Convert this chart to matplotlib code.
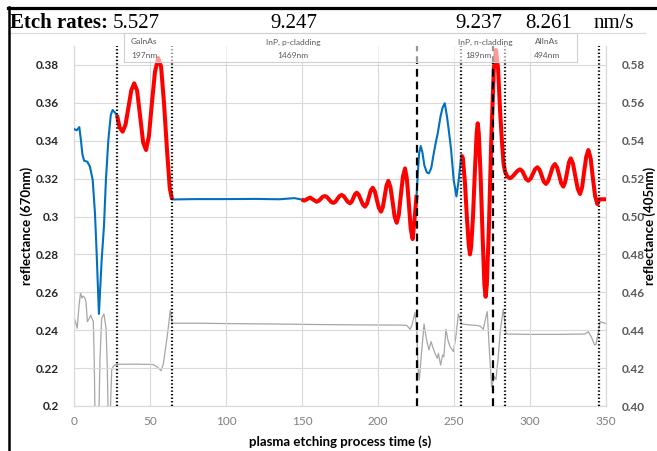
import matplotlib
matplotlib.use('Agg')
import matplotlib.pyplot as plt
from matplotlib.patches import Rectangle
from matplotlib.lines import Line2D
import numpy as np

# ---------------- data ----------------
t670 = [0, 1.75, 3.5, 4.6, 5.5, 6.6, 8.8, 10.5, 12.3, 13.8, 14.9, 16.4, 18.2, 19.7, 21.0, 22.6, 24.2, 25.4, 26.9,
        28.3, 30.0, 32.0, 33.9, 35.8, 37.7, 39.6, 41.5, 43.5, 45.5, 47.4, 49.3, 51.2, 53.3, 55.4, 57.3, 59.2, 61.2, 63.0, 64.5,
        80, 100, 120, 135, 140, 145, 149.7,
        151.5, 153.4, 155.3, 157.4, 159.6, 161.0, 162.3, 163.6, 165.0, 166.4, 167.8, 169.2, 170.6, 172.0, 173.3, 174.7,
        176.1, 177.5, 178.8, 180.2, 181.6, 182.7, 183.8, 184.9, 186.0, 187.3, 188.7, 190.1, 191.4, 192.7, 194.0, 195.2,
        196.5, 197.9, 199.2, 200.6, 202.0, 203.2, 204.4, 205.6, 206.8, 208.2, 209.6, 210.9, 212.3, 213.7, 215.0, 216.4,
        217.8, 219.0, 220.3, 221.5, 222.8, 224.1, 225.4,
        226.2, 227.0, 228.1, 229.2, 230.5, 232.1, 233.5, 235.0, 236.7, 238.0, 239.3, 241.1, 242.5, 243.9, 245.4, 246.8,
        248.1, 249.8, 251.6, 253.1, 254.8,
        255.8, 257.2, 258.6, 259.7, 260.5, 261.3, 262.5, 263.8, 264.9, 265.6, 266.3, 267.5, 268.8, 270.0, 270.8, 271.6,
        273.0, 274.5, 276.2, 277.6, 279.0, 280.3, 281.5, 282.6, 283.6, 285.0, 286.8, 288.3, 290.1, 291.9, 293.4, 294.9,
        296.2, 297.4, 298.9, 300.4, 301.9, 303.3, 304.8, 306.3, 307.7, 309.0, 310.5, 312.0, 313.5, 314.9, 316.4, 317.8,
        319.2, 320.5, 321.9, 323.1, 324.4, 325.6, 326.8, 328.3, 329.8, 331.4, 332.9, 334.3, 335.6, 337.0, 338.4, 339.9,
        341.3, 342.8, 344.3, 345.6, 350]
r670 = [0.3462, 0.3455, 0.3472, 0.3400, 0.3330, 0.3295, 0.3289, 0.3263, 0.3193, 0.3017, 0.2807, 0.2486, 0.2770,
        0.2947, 0.3193, 0.3404, 0.3536, 0.3562, 0.3549,
        0.3535, 0.3470, 0.3448, 0.3485, 0.3575, 0.3666, 0.3703, 0.3665, 0.3530, 0.3390, 0.3351, 0.3425, 0.3595, 0.3765,
        0.3837, 0.3790, 0.3600, 0.3350, 0.3150, 0.3090,
        0.3092, 0.3092, 0.3093, 0.3091, 0.3094, 0.3097, 0.3090,
        0.3084, 0.3092, 0.3100, 0.3089, 0.3078, 0.3083, 0.3093, 0.3104, 0.3108, 0.3103, 0.3090, 0.3077, 0.3072, 0.3078,
        0.3093, 0.3108, 0.3114, 0.3107, 0.3092, 0.3077, 0.3070, 0.3078, 0.3098, 0.3118, 0.3126, 0.3115, 0.3089, 0.3063,
        0.3052, 0.3067, 0.3102, 0.3137, 0.3152, 0.3133, 0.3089, 0.3045, 0.3026, 0.3050, 0.3107, 0.3164, 0.3188, 0.3155,
        0.3078, 0.3000, 0.2967, 0.3010, 0.3111, 0.3211, 0.3254, 0.3198, 0.3068, 0.2937, 0.2881, 0.2990, 0.3114,
        0.3230, 0.3330, 0.3372, 0.3340, 0.3270, 0.3233, 0.3228, 0.3255, 0.3334, 0.3390, 0.3439, 0.3527, 0.3575, 0.3598,
        0.3527, 0.3440, 0.3351, 0.3193, 0.3106, 0.3193, 0.3325,
        0.3310, 0.3180, 0.2980, 0.2850, 0.2800, 0.2840, 0.3000, 0.3250, 0.3440, 0.3492, 0.3440, 0.3220, 0.2900, 0.2640,
        0.2577, 0.2640, 0.2950, 0.3400, 0.3780, 0.3879, 0.3780, 0.3560, 0.3400, 0.3280, 0.3237, 0.3212, 0.3202, 0.3209,
        0.3226, 0.3242, 0.3249, 0.3240, 0.3219, 0.3198, 0.3189, 0.3200, 0.3225, 0.3249, 0.3260, 0.3247, 0.3216, 0.3185,
        0.3172, 0.3188, 0.3225, 0.3261, 0.3277, 0.3259, 0.3218, 0.3176, 0.3158, 0.3180, 0.3233, 0.3285, 0.3307, 0.3279,
        0.3213, 0.3147, 0.3119, 0.3154, 0.3235, 0.3316, 0.3351, 0.3308, 0.3208, 0.3109, 0.3066, 0.3091, 0.3091]

t405 = [0.2, 1.2, 2.1, 3.2, 4.3, 5.2, 6.1, 7.2, 7.9, 8.8, 10.1, 11.0, 11.8, 12.7, 13.3, 13.9, 15.4, 16.5, 17.1, 18.2,
        19.7, 21.1, 21.9, 22.6, 23.7, 24.8, 26.3, 28.1, 40, 52, 55, 57.3, 58.7, 60.1, 61.6, 63.4, 64.5,
        80, 100, 130, 160, 190, 215, 219, 221.1, 222.5, 224.3, 225.5, 226.3, 227.2, 228.3, 230.3, 231.5, 232.5, 233.5,
        234.9, 236.5, 237.5, 239.0, 239.7, 241.2, 242.5, 243.3, 244.7, 246.0, 247.4, 249.6, 251.2, 252.9, 255.0, 260,
        265, 267.1, 269.3, 271.0, 271.9, 273.2, 274.8, 276.5, 277.6, 279.0, 280.5, 282.4, 283.5, 284.2, 285, 300, 320,
        336, 338.4, 340.6, 342.5, 343.4, 344.5, 346.1, 349.3, 350]
r405 = [0.4463, 0.4440, 0.4410, 0.4520, 0.4598, 0.4570, 0.4580, 0.4570, 0.4550, 0.4445, 0.4463, 0.4480, 0.4463,
        0.4445, 0.4250, 0.3900, 0.3850, 0.4000, 0.4250, 0.4463, 0.4485, 0.4410, 0.4200, 0.3900, 0.3920, 0.4190, 0.4215,
        0.4220, 0.4221, 0.4219, 0.4205, 0.4186, 0.4220, 0.4296, 0.4384, 0.4507, 0.4437,
        0.4437, 0.4435, 0.4433, 0.4430, 0.4428, 0.4427, 0.4425, 0.4405, 0.4430, 0.4493, 0.4400, 0.4200, 0.4137, 0.4250,
        0.4433, 0.4370, 0.4331, 0.4296, 0.4340, 0.4300, 0.4278, 0.4252, 0.4278, 0.4216, 0.4269, 0.4260, 0.4405, 0.4348,
        0.4313, 0.4287, 0.4366, 0.4486, 0.4433, 0.4428, 0.4425, 0.4422, 0.4405, 0.4470, 0.4498, 0.4300, 0.4102, 0.4155,
        0.4140, 0.4250, 0.4400, 0.4510, 0.4440, 0.4384, 0.4380, 0.4378, 0.4378, 0.4380, 0.4392, 0.4360, 0.4322, 0.4325,
        0.4370, 0.4445, 0.4437, 0.4435]

red_ranges = [(28.3, 64.5), (149.7, 225.4), (254.8, 350)]
dotted_x = [28.3, 64.5, 254.8, 283.8, 345.6]
dashed_x = [225.4, 275.5]
etch_rates = ['5.527', '9.247', '9.237', '8.261']
layer_names = ['GaInAs', 'InP, p-cladding', 'InP, n-cladding', 'AlInAs']
layer_thick = ['197nm', '1469nm', '189nm', '494nm']

xticks = [0, 50, 100, 150, 200, 250, 300, 350]
yticks_left = [0.2, 0.22, 0.24, 0.26, 0.28, 0.3, 0.32, 0.34, 0.36, 0.38]
yticks_right = [0.40, 0.42, 0.44, 0.46, 0.48, 0.50, 0.52, 0.54, 0.56, 0.58]

# ---------------- figure ----------------
W, H = 657, 451
fig = plt.figure(figsize=(W / 100, H / 100), dpi=100)
fig.patch.set_facecolor('white')

def fx(px):
    return px / W

def fy(py):
    return 1 - py / H

AX_L, AX_R, AX_T, AX_B = 74, 606, 46, 406
ax = fig.add_axes([fx(AX_L), fy(AX_B), (AX_R - AX_L) / W, (AX_B - AX_T) / H])
ax.set_xlim(0, 350)
ax.set_ylim(0.2, 0.39)
ax2 = ax.twinx()
ax2.set_ylim(0.40, 0.59)

grid_c = '#D9D9D9'
for a in (ax, ax2):
    for s in a.spines.values():
        s.set_color(grid_c)
        s.set_linewidth(0.8)
    a.spines['top'].set_visible(False)

ax.set_xticks(xticks)
ax.set_yticks(yticks_left)
ax.set_yticklabels([('%g' % v) for v in yticks_left])
ax2.set_yticks(yticks_right)
ax2.set_yticklabels(['%.2f' % v for v in yticks_right])
ax.grid(True, color=grid_c, linewidth=0.8)
ax.set_axisbelow(True)

tick_font = 'Lato'
ax.tick_params(axis='both', length=0)
ax2.tick_params(axis='both', length=0)
ax.tick_params(axis='y', pad=11)
ax2.tick_params(axis='y', pad=11)
ax.tick_params(axis='x', pad=7)
for lab in ax.get_yticklabels():
    lab.set_fontfamily(tick_font); lab.set_fontweight('bold'); lab.set_fontsize(8.5); lab.set_color('#262626')
for lab in ax2.get_yticklabels():
    lab.set_fontfamily(tick_font); lab.set_fontweight('bold'); lab.set_fontsize(8.5); lab.set_color('#595959')
for lab in ax.get_xticklabels():
    lab.set_fontfamily(tick_font); lab.set_fontsize(8.5); lab.set_color('#7F7F7F')

lab_kw = dict(fontfamily=tick_font, fontweight='bold', fontsize=9.5, color='black')
ax.set_xlabel('plasma etching process time (s)', **lab_kw)
ax.set_ylabel('reflectance (670nm)', **lab_kw)
ax2.set_ylabel('reflectance (405nm)', rotation=90, **lab_kw)
axw = AX_R - AX_L
axh = AX_B - AX_T
ax.xaxis.set_label_coords((340 - AX_L) / axw, -(442 - AX_B) / axh)
ax.xaxis.label.set_verticalalignment('center')
ax.yaxis.set_label_coords((27 - AX_L) / axw, (AX_B - 226) / axh)
ax.yaxis.label.set_verticalalignment('center')
ax2.yaxis.set_label_coords((650 - AX_L) / axw, (AX_B - 226) / axh)
ax2.yaxis.label.set_verticalalignment('center')

# lines
ax2.plot(t405, r405, color='#A6A6A6', linewidth=0.9, zorder=2)
ax.set_zorder(ax2.get_zorder() + 1)
ax.patch.set_visible(False)
ax.plot(t670, r670, color='#0070C0', linewidth=1.5, zorder=3)
t_arr = np.array(t670)
r_arr = np.array(r670)
for a0, a1 in red_ranges:
    m = (t_arr >= a0) & (t_arr <= a1)
    ax.plot(t_arr[m], r_arr[m], color='#FF0000', linewidth=2.9, zorder=4, solid_joinstyle='round', solid_capstyle='butt')

ylo, yhi = ax.get_ylim()
ax.vlines(dotted_x, ylo, yhi, colors='black', linewidth=1.6, linestyles=[(0, (0.6, 1.0))], zorder=5)
ax.vlines(dashed_x, ylo, yhi, colors='black', linewidth=1.6, linestyles=[(0, (3.5, 2.2))], zorder=5)

# ---------------- annotation box ----------------
box = Rectangle((fx(124), fy(62)), fx(577) - fx(124), fy(33) - fy(62), transform=fig.transFigure,
                facecolor='white', alpha=0.6, edgecolor='none', zorder=6)
fig.add_artist(box)
boxedge = Rectangle((fx(124), fy(62)), fx(577) - fx(124), fy(33) - fy(62), transform=fig.transFigure,
                    facecolor='none', edgecolor='#D0D0D0', linewidth=0.8, zorder=7)
fig.add_artist(boxedge)

lab_font = dict(fontfamily='Lato', fontsize=6, color='#595959', zorder=8)
lx1 = [131, 293, 485, 547]
lx2 = [131, 293, 478, 547]
ha1 = ['left', 'center', 'center', 'center']
for name, th, x1, x2, h in zip(layer_names, layer_thick, lx1, lx2, ha1):
    fig.text(fx(x1), fy(42), name, ha=h, va='center', **lab_font)
    fig.text(fx(x2), fy(55), th, ha=h, va='center', **lab_font)

# ---------------- header & frame ----------------
fig.add_artist(Line2D([fx(8), fx(645)], [fy(33), fy(33)], color='#D9D9D9', linewidth=0.8, transform=fig.transFigure))
fig.add_artist(Line2D([fx(8), 1.0], [fy(8.3), fy(8.3)], color='black', linewidth=2.3, transform=fig.transFigure))
fig.add_artist(Line2D([fx(8.6), fx(8.6)], [fy(7), 0.0], color='black', linewidth=1.8, transform=fig.transFigure))

hdr = dict(fontfamily='Liberation Serif', fontsize=15, color='black', va='baseline')
fig.text(fx(10), fy(28.5), 'Etch rates:', fontweight='bold', **hdr)
for s, x in zip(etch_rates, [113, 270, 455, 525]):
    fig.text(fx(x), fy(28.5), s, **hdr)
fig.text(fx(594), fy(28.5), 'nm/s', **hdr)

fig.savefig('out.png', dpi=100)
